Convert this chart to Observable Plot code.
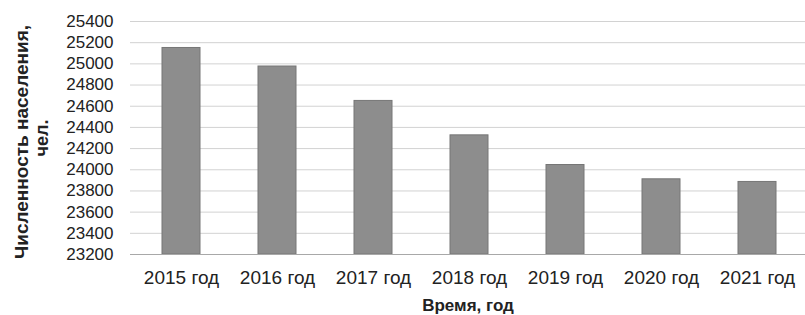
<!DOCTYPE html>
<html>
<head>
<meta charset="utf-8">
<script src="https://cdn.jsdelivr.net/npm/d3@7"></script>
<script src="https://cdn.jsdelivr.net/npm/@observablehq/plot@0.6"></script>
<style>
  html, body { margin: 0; padding: 0; background: #fff; }
  #chart svg { display: block; }
</style>
</head>
<body>
<div id="chart"></div>
<script>
const years = ["2015 год", "2016 год", "2017 год", "2018 год", "2019 год", "2020 год", "2021 год"];
const population = [25150, 24975, 24650, 24325, 24045, 23910, 23885];
const yTicks = [23200, 23400, 23600, 23800, 24000, 24200, 24400, 24600, 24800, 25000, 25200, 25400];
const yLabelLine1 = "Численность населения,";
const yLabelLine2 = "чел.";
const xLabel = "Время, год";

const data = years.map((year, i) => ({year, value: population[i]}));

const chart = Plot.plot({
  width: 805,
  height: 315,
  marginLeft: 130,
  marginRight: 0,
  marginTop: 21,
  marginBottom: 61,
  style: {fontFamily: "'Liberation Sans', Arial, sans-serif", color: "#222", background: "#fff"},
  x: {domain: years, range: [130, 808], paddingInner: 0.6, paddingOuter: 0.3, label: null},
  y: {domain: [23200, 25400], ticks: yTicks, label: null},
  marks: [
    Plot.ruleY(yTicks.slice(1), {stroke: "#d2d2d2", strokeWidth: 1}),
    Plot.barY(data, {x: "year", y1: 23200, y2: "value", fill: "#8d8d8d", stroke: "#767676", strokeWidth: 1}),
    Plot.ruleY([23200], {stroke: "#a8a8a8", strokeWidth: 1.2}),
    Plot.axisY({ticks: yTicks, tickSize: 0, tickPadding: 17, fontSize: 17, tickFormat: d => String(d), label: null, fill: "#222"}),
    Plot.axisX({tickSize: 0, tickPadding: 16, fontSize: 19, label: null, fill: "#222"}),
    Plot.text([xLabel], {frameAnchor: "bottom", lineAnchor: "bottom", dy: 56, fontSize: 17, fontWeight: "bold", fill: "#222", text: d => d}),
    Plot.text([yLabelLine1], {frameAnchor: "left", textAnchor: "middle", lineAnchor: "middle", dx: -109, dy: 4, rotate: -90, fontSize: 19, fontWeight: "bold", fill: "#222", text: d => d}),
    Plot.text([yLabelLine2], {frameAnchor: "left", textAnchor: "middle", lineAnchor: "middle", dx: -88, dy: 0, rotate: -90, fontSize: 18, fontWeight: "bold", fill: "#222", text: d => d})
  ]
});
document.getElementById("chart").appendChild(chart);
</script>
</body>
</html>
